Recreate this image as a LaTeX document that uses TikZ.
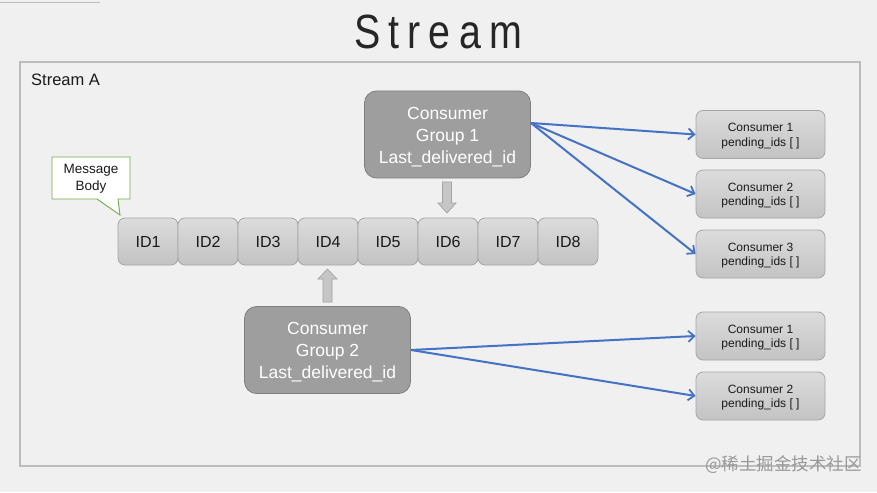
\documentclass[tikz,border=0pt]{standalone}
\usepackage{fontspec}
\setmainfont{Liberation Sans}
\newfontfamily\cjkfont{Noto Sans CJK SC}
\usetikzlibrary{arrows.meta,calc}
\definecolor{bgc}{HTML}{F0F0F0}
\definecolor{framec}{HTML}{BDBDBD}
\definecolor{idtop}{HTML}{DCDCDC}
\definecolor{idbot}{HTML}{C3C3C3}
\definecolor{idline}{HTML}{A6A6A6}
\definecolor{cgfill}{HTML}{9E9E9E}
\definecolor{cgline}{HTML}{7F7F7F}
\definecolor{bluec}{HTML}{4472C4}
\definecolor{greenc}{HTML}{70AD47}
\definecolor{barrowfill}{HTML}{C6C6C6}
\definecolor{barrowline}{HTML}{A3A3A3}
\definecolor{txtc}{HTML}{1A1A1A}
\tikzset{
  idbox/.style={draw=idline, line width=0.8pt, rounded corners=7pt, top color=idtop, bottom color=idbot,
    minimum width=60pt, minimum height=47pt, inner sep=0pt, text=txtc, text height=11.5pt, text depth=0pt,
    font=\fontsize{16}{18}\selectfont},
  cgbox/.style={draw=cgline, line width=0.8pt, rounded corners=12pt, fill=cgfill,
    minimum width=166pt, minimum height=87pt, inner sep=0pt},
  cgtext/.style={text=white, align=center, inner sep=0pt, font=\fontsize{17.5}{22}\selectfont},
  cbox/.style={draw=idline, line width=0.8pt, rounded corners=7pt, top color=idtop, bottom color=idbot,
    minimum width=129pt, minimum height=48pt, inner sep=0pt},
  ctext/.style={text=txtc, align=center, inner sep=0pt, font=\fontsize{12}{14.5}\selectfont},
  bluearrow/.style={draw=bluec, line width=2pt, -{Straight Barb[length=6pt,width=11pt,line width=1.8pt]}},
  blockarrow/.style={fill=barrowfill, draw=barrowline, line width=0.7pt},
}
\begin{document}
\begin{tikzpicture}[x=1pt,y=-1pt]
\fill[bgc] (0,0) rectangle (877,492);
\useasboundingbox (0,0) rectangle (877,492);
\draw[framec, line width=0.8pt] (0,2) -- (100,2);

% title
\node[text=black!85, font=\fontsize{48}{50}\selectfont, inner sep=0pt] (title) at (438,32)
  {\scalebox{0.82}[1]{S\kern10pt t\kern10pt r\kern10pt e\kern10pt a\kern10pt m}};

% frame
\draw[framec, line width=2.5pt] (20,62) rectangle (860,466);
\node[anchor=west, text=txtc, font=\fontsize{16.5}{18}\selectfont, inner sep=0pt] (sa) at (31,80) {Stream A};

% ID boxes
\foreach \i in {1,...,8}{
  \node[idbox] (id\i) at ({148+60*(\i-1)},241.5) {ID\i};
}

% message body callout
\draw[greenc, fill=white, line width=0.9pt] (52,157) -- (130,157) -- (130,199) -- (118,199) -- (120,215) -- (97,199) -- (52,199) -- cycle;
\node[align=center, text=txtc, font=\fontsize{13.5}{17}\selectfont, inner sep=0pt] (msg) at (91,179) {Message\\Body};

% consumer groups
\node[cgbox] (cg1) at (447.5,134.5) {};
\node[cgtext] (cg1t) at ($(cg1.center)+(0,2.5)$) {Consumer\\Group 1\\Last\_delivered\_id};
\node[cgbox] (cg2) at (327.5,350) {};
\node[cgtext] (cg2t) at ($(cg2.center)+(0,2.5)$) {Consumer\\Group 2\\Last\_delivered\_id};

% block arrows
\draw[blockarrow] (442.5,182) -- (451.5,182) -- (451.5,203) -- (456,203) -- (447,213) -- (438,203) -- (442.5,203) -- cycle;
\draw[blockarrow] (323,302) -- (332,302) -- (332,279) -- (337,279) -- (327.5,269) -- (318,279) -- (323,279) -- cycle;

% consumers
\foreach \n/\y/\t in {a1/134.5/1, a2/194/2, a3/254/3, b1/336/1, b2/396/2}{
  \node[cbox] (\n) at (760.5,\y) {};
  \node[ctext] (\n t) at ($(\n.center)+(0,1.5)$) {Consumer \t\\pending\_ids [ ]};
}

% blue connectors
\coordinate (s1) at (531,123);
\coordinate (s2) at (411,350);
\draw[bluearrow] (s1) -- (a1.west);
\draw[bluearrow] (s1) -- (a2.west);
\draw[bluearrow] (s1) -- (a3.west);
\draw[bluearrow] (s2) -- (b1.west);
\draw[bluearrow] (s2) -- (b2.west);

% watermark
\node[anchor=east, text=black!40, font=\cjkfont\fontsize{17.5}{20}\selectfont, inner sep=0pt] (wm) at (862,465) {@稀土掘金技术社区};
\end{tikzpicture}
\end{document}
